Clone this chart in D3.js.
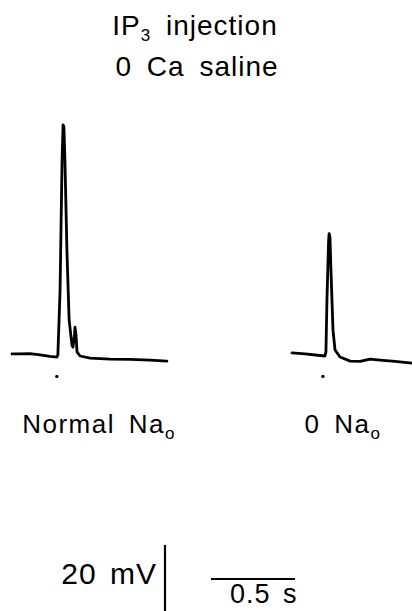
<!DOCTYPE html>
<html>
<head>
<meta charset="utf-8">
<script src="https://cdn.jsdelivr.net/npm/d3@7"></script>
<style>
  body { margin: 0; background: #fff; }
  svg text { font-family: "Liberation Sans", Arial, sans-serif; fill: #000; }
</style>
</head>
<body>
<svg id="chart" width="412" height="611"></svg>
<script>
// trace data: time in ms from trace start, voltage in mV relative to rest
var normalT = [0, 48, 107, 167, 226, 267, 273, 286, 298, 304, 309, 315, 327, 340, 357, 363, 372, 375, 381, 387, 405, 465, 584, 703, 822, 922];
var normalV = [0.6, 0.6, 0.7, 0.3, -0.1, -0.3, 0.3, 19, 57.6, 68, 67.4, 57.6, 31, 10.6, 3.2, 2.6, 6.2, 8.5, 6.2, 1.2, 0, -0.6, -0.9, -1.0, -1.2, -1.5];
var zeroNaT = [0, 77, 167, 196, 202, 208, 218, 221, 226, 232, 244, 256, 286, 346, 405, 465, 524, 613, 714];
var zeroNaV = [0.9, 0.6, 0.15, 0, 1.2, 16.5, 34, 36, 35, 25, 7.6, 1.8, -0.3, -1.5, -1.6, -0.9, -1.2, -1.6, -2.1];
var stimTimes = [267, 184];   // stimulus marks (dots) under each trace
var panelLabels = ["Normal Na", "0 Na"];
var titleLines = ["injection", "0 Ca saline"];
var scaleMV = 20, scaleS = 0.5;

var svg = d3.select("#chart");

// shared scales: 0.5 s = 84 px, 20 mV = 68 px
var x = d3.scaleLinear().domain([0, 1000]).range([0, 168]);
var y = d3.scaleLinear().domain([0, 20]).range([0, -68]);

var baseY = 356;
var panels = [
  {t: normalT, v: normalV, x0: 12, stim: stimTimes[0], label: panelLabels[0], lx: 99},
  {t: zeroNaT, v: zeroNaV, x0: 292, stim: stimTimes[1], label: panelLabels[1], lx: 343}
];

var line = d3.line()
  .x(function(d) { return x(d[0]); })
  .y(function(d) { return y(d[1]); });

panels.forEach(function(p) {
  var g = svg.append("g").attr("transform", "translate(" + p.x0 + "," + baseY + ")");
  var pts = p.t.map(function(t, i) { return [t, p.v[i]]; });
  g.append("path")
    .attr("d", line(pts))
    .attr("fill", "none")
    .attr("stroke", "#000")
    .attr("stroke-width", 2.8)
    .attr("stroke-linejoin", "round")
    .attr("stroke-linecap", "round");
  // stimulus dot
  g.append("circle")
    .attr("cx", x(p.stim))
    .attr("cy", y(-6))
    .attr("r", 1.7)
    .attr("fill", "#000");

  var lab = svg.append("text")
    .attr("x", p.lx)
    .attr("y", 433)
    .attr("text-anchor", "middle")
    .style("font-size", "26px")
    .style("letter-spacing", "1.5px")
    .style("word-spacing", "5px")
    .text(p.label);
  lab.append("tspan").attr("dy", 6).style("font-size", "17px").text("o");
});

// title
var t1 = svg.append("text")
  .attr("x", 195).attr("y", 35)
  .attr("text-anchor", "middle")
  .style("font-size", "28px")
  .style("letter-spacing", "1px")
  .style("word-spacing", "6px");
t1.append("tspan").text("IP");
t1.append("tspan").attr("dy", 6).style("font-size", "17px").text("3");
t1.append("tspan").attr("dy", -6).text(" " + titleLines[0]);

svg.append("text")
  .attr("x", 197).attr("y", 76)
  .attr("text-anchor", "middle")
  .style("font-size", "28px")
  .style("letter-spacing", "1px")
  .style("word-spacing", "6px")
  .text(titleLines[1]);

// calibration bars
var vx = 165, vTop = 545;
svg.append("line")
  .attr("x1", vx).attr("x2", vx)
  .attr("y1", vTop).attr("y2", vTop - y(scaleMV))
  .attr("stroke", "#000").attr("stroke-width", 2.2);
svg.append("text")
  .attr("x", 157).attr("y", 584)
  .attr("text-anchor", "end")
  .style("font-size", "30px")
  .style("letter-spacing", "1px")
  .style("word-spacing", "4px")
  .text(scaleMV + " mV");

var hx = 211, hy = 579;
svg.append("line")
  .attr("x1", hx).attr("x2", hx + x(scaleS * 1000))
  .attr("y1", hy).attr("y2", hy)
  .attr("stroke", "#000").attr("stroke-width", 2.2);
svg.append("text")
  .attr("x", 230).attr("y", 603)
  .attr("text-anchor", "start")
  .style("font-size", "27px")
  .style("letter-spacing", "1px")
  .style("word-spacing", "4px")
  .text(scaleS + " s");
</script>
</body>
</html>
